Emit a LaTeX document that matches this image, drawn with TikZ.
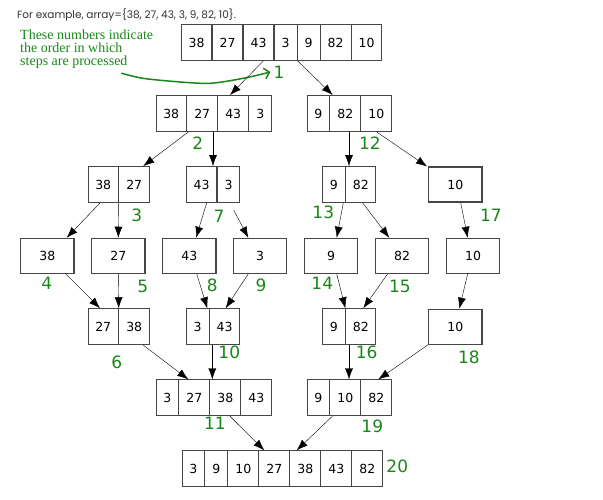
\documentclass[tikz,border=0pt]{standalone}
\usepackage{fontspec}
\setmainfont{DejaVu Sans}
\newfontfamily\notefont{Liberation Serif}
\newfontfamily\capfont{Poppins}
\usetikzlibrary{shapes.multipart,arrows.meta,positioning}

\definecolor{stepgreen}{RGB}{25,135,25}
\definecolor{boxgray}{RGB}{70,70,70}

\tikzset{
  arrbox/.style={rectangle split, rectangle split horizontal, draw=boxgray, line width=1.1pt,
    inner xsep=7pt, inner ysep=13.2pt, font=\fontsize{12.5}{12.5}\selectfont, anchor=west},
  cellbox/.style={rectangle, draw=boxgray, line width=1.1pt, minimum width=53.4pt,
    minimum height=35pt, inner sep=0pt, font=\fontsize{12.5}{12.5}\selectfont},
  stepnum/.style={text=stepgreen, inner sep=0pt, font=\fontsize{17}{17}\selectfont},
}

\begin{document}
\begin{tikzpicture}[x=1pt, y=-1pt, >={Latex[length=11pt,width=8pt]}]
    \fill[white] (0,0) rectangle (603,499);
    \useasboundingbox (0,0) rectangle (603,499);

    % Caption and the note about the step numbers
    \node[anchor=west, inner sep=0pt, text=black!80, font=\capfont\fontsize{10.5}{10.5}\selectfont] (caption) at (17,15) {For example, array=\{38, 27, 43, 3, 9, 82, 10\}.};
    \node[anchor=north west, inner sep=0pt, align=left, text=stepgreen, font=\notefont\fontsize{14}{13}\selectfont] (note) at (20,30) {These numbers indicate\\ the order in which\\ steps are processed};

    % Split phase
    \node[arrbox, rectangle split parts=7] (r0) at (181,42.5) {38\nodepart{two}27\nodepart{three}43\nodepart{four}3\nodepart{five}9\nodepart{six}82\nodepart{seven}10};
    \node[arrbox, rectangle split parts=4] (r1a) at (155.7,113.5) {38\nodepart{two}27\nodepart{three}43\nodepart{four}3};
    \node[arrbox, rectangle split parts=3] (r1b) at (306.7,113.5) {9\nodepart{two}82\nodepart{three}10};
    \node[arrbox, rectangle split parts=2] (r2a) at (87.7,184.5) {38\nodepart{two}27};
    \node[arrbox, rectangle split parts=2] (r2b) at (186,184.5) {43\nodepart{two}3};
    \node[arrbox, rectangle split parts=2] (r2c) at (322.3,184.5) {9\nodepart{two}82};
    \node[cellbox] (r2d) at (455.3,184.5) {10};

    % Single elements
    \node[cellbox] (r3a) at (47.3,255.8) {38};
    \node[cellbox] (r3b) at (118.3,255.8) {27};
    \node[cellbox] (r3c) at (189.3,255.8) {43};
    \node[cellbox] (r3d) at (260,255.8) {3};
    \node[cellbox] (r3e) at (331,255.8) {9};
    \node[cellbox] (r3f) at (402,255.8) {82};
    \node[cellbox] (r3g) at (473,255.8) {10};

    % Merge phase
    \node[arrbox, rectangle split parts=2] (r4a) at (87.7,326.7) {27\nodepart{two}38};
    \node[arrbox, rectangle split parts=2] (r4b) at (186,326.7) {3\nodepart{two}43};
    \node[arrbox, rectangle split parts=2] (r4c) at (322.3,326.7) {9\nodepart{two}82};
    \node[cellbox] (r4d) at (455.3,326.7) {10};
    \node[arrbox, rectangle split parts=4] (r5a) at (155.7,397.8) {3\nodepart{two}27\nodepart{three}38\nodepart{four}43};
    \node[arrbox, rectangle split parts=3] (r5b) at (306.7,397.8) {9\nodepart{two}10\nodepart{three}82};
    \node[arrbox, rectangle split parts=7] (r6) at (181.7,468.8) {3\nodepart{two}9\nodepart{three}10\nodepart{four}27\nodepart{five}38\nodepart{six}43\nodepart{seven}82};

    % Step numbers
    \node[stepnum] (s1) at (279,72) {1};
    \node[stepnum] (s2) at (197.7,142.7) {2};
    \node[stepnum] (s3) at (136.7,215) {3};
    \node[stepnum] (s4) at (46.7,283.3) {4};
    \node[stepnum] (s5) at (142.7,286.7) {5};
    \node[stepnum] (s6) at (116.7,362.3) {6};
    \node[stepnum] (s7) at (219,216.7) {7};
    \node[stepnum] (s8) at (212.3,285) {8};
    \node[stepnum] (s9) at (261,285) {9};
    \node[stepnum] (s10) at (229.3,352.3) {10};
    \node[stepnum] (s11) at (215,423.3) {11};
    \node[stepnum] (s12) at (370,143) {12};
    \node[stepnum] (s13) at (323.3,212.3) {13};
    \node[stepnum] (s14) at (322.3,283.3) {14};
    \node[stepnum] (s15) at (400,286.7) {15};
    \node[stepnum] (s16) at (366.7,352.7) {16};
    \node[stepnum] (s17) at (491,215.7) {17};
    \node[stepnum] (s18) at (469,357.3) {18};
    \node[stepnum] (s19) at (372.3,426.7) {19};
    \node[stepnum] (s20) at (397.3,466.7) {20};

    % Hand drawn pointer from the note to step 1
    \coordinate (scribble) at (121.7,73.3);
    \draw[stepgreen, line width=1.5pt, line cap=round, -{Straight Barb[length=5pt,width=11pt]}]
        plot[smooth] coordinates {(scribble) (143,78.3) (176.7,81.7) (210,83.3) (243.3,78.3) ([xshift=-3pt]s1.west)};

    % Split arrows
    \draw[->] ([xshift=82.3pt]r0.south west) -- ([xshift=74.3pt]r1a.north west);
    \draw[->] ([xshift=116.7pt]r0.south west) -- ([xshift=26pt]r1b.north west);
    \draw[->] ([xshift=32.6pt]r1a.south west) -- ([xshift=55.6pt]r2a.north west);
    \draw[->] ([xshift=57.3pt]r1a.south west) -- ([xshift=27pt]r2b.north west);
    \draw[->] ([xshift=42.3pt]r1b.south west) -- ([xshift=26.7pt]r2c.north west);
    \draw[->] ([xshift=70pt]r1b.south west) -- ([xshift=-1pt]r2d.north west);
    \draw[->] ([xshift=12.3pt]r2a.south west) -- ([xshift=19.4pt]r3a.north);
    \draw[->] (r2a.one split south) -- (r3b.north);
    \draw[->] ([xshift=20.7pt]r2b.south west) -- ([xshift=6.7pt]r3c.north);
    \draw[->, shorten <=8pt] ([xshift=44pt]r2b.south west) -- ([xshift=-11.7pt]r3d.north);
    \draw[->] ([xshift=21pt]r2c.south west) -- ([xshift=5.7pt]r3e.north);
    \draw[->] ([xshift=40.4pt]r2c.south west) -- ([xshift=-12.7pt]r3f.north);
    \draw[->] ([xshift=5.4pt]r2d.south) -- ([xshift=-5.3pt]r3g.north);

    % Merge arrows
    \draw[->] ([xshift=18.4pt]r3a.south) -- ([xshift=12.3pt]r4a.north west);
    \draw[->] (r3b.south) -- (r4a.one split north);
    \draw[->] ([xshift=7.4pt]r3c.south) -- ([xshift=21.3pt]r4b.north west);
    \draw[->] ([xshift=-11.7pt]r3d.south) -- ([xshift=39.7pt]r4b.north west);
    \draw[->] ([xshift=5.7pt]r3e.south) -- (r4c.one split north);
    \draw[->] ([xshift=-14.3pt]r3f.south) -- ([xshift=41pt]r4c.north west);
    \draw[->] ([xshift=-5.3pt]r3g.south) -- ([xshift=4pt]r4d.north);
    \draw[->] ([xshift=55.6pt]r4a.south west) -- ([xshift=32.6pt]r5a.north west);
    \draw[->] ([xshift=26.3pt]r4b.south west) -- ([xshift=56.6pt]r5a.north west);
    \draw[->] ([xshift=26.7pt]r4c.south west) -- ([xshift=42.3pt]r5b.north west);
    \draw[->] (r4d.south west) -- ([xshift=71.6pt]r5b.north west);
    \draw[->] ([xshift=74.3pt]r5a.south west) -- ([xshift=82.6pt]r6.north west);
    \draw[->] ([xshift=25.6pt]r5b.south west) -- ([xshift=115pt]r6.north west);
\end{tikzpicture}
\end{document}
